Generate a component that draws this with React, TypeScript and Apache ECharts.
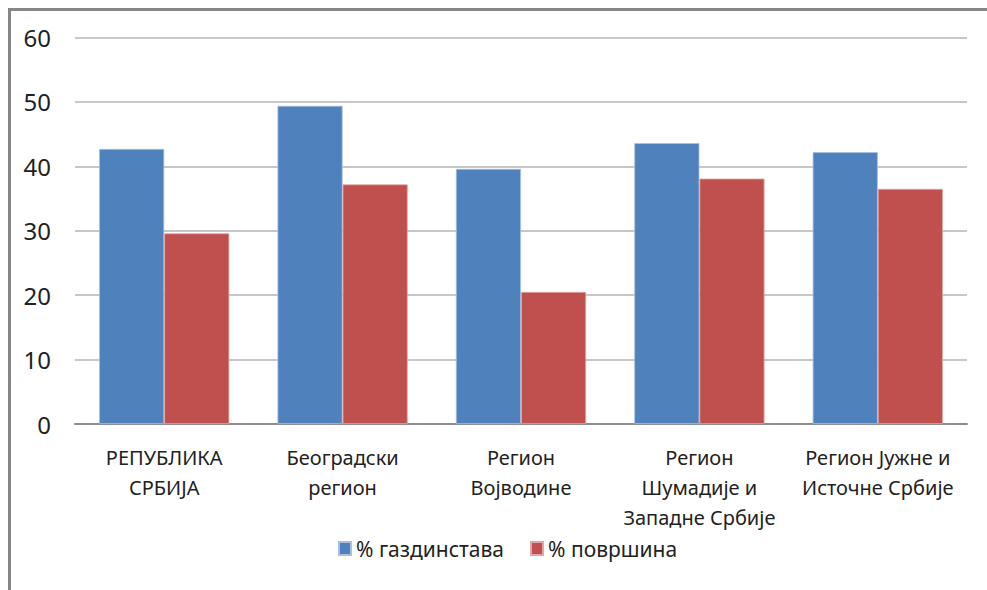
import React, { useEffect, useRef } from "react";
import * as echarts from "echarts";

const categories = [
  "РЕПУБЛИКА\nСРБИЈА",
  "Београдски\nрегион",
  "Регион\nВојводине",
  "Регион\nШумадије и\nЗападне Србије",
  "Регион Јужне и\nИсточне Србије",
];
const households = [42.7, 49.4, 39.6, 43.6, 42.2];
const areas = [29.6, 37.2, 20.5, 38.1, 36.5];
const seriesNames = ["% газдинстава", "% површина"];

const FONT = "'Noto Sans', 'DejaVu Sans', sans-serif";

export default function App() {
  const ref = useRef<HTMLDivElement>(null);
  useEffect(() => {
    if (!ref.current) return;
    const chart = echarts.init(ref.current, undefined, { renderer: "svg" });
    chart.setOption({
      animation: false,
      backgroundColor: "#ffffff",
      textStyle: { fontFamily: FONT },
      graphic: [
        {
          type: "rect",
          shape: { x: 9.5, y: 9.5, width: 1200, height: 800 },
          style: { fill: "none", stroke: "#868686", lineWidth: 3 },
          silent: true,
        },
      ],
      grid: { left: 75, right: 20, top: 37.5, bottom: 166, containLabel: false },
      legend: {
        bottom: 26,
        left: 333,
        itemWidth: 12,
        itemHeight: 13,
        itemGap: 26,
        icon: "rect",
        textStyle: { fontSize: 21, color: "#222", fontFamily: FONT },
        data: seriesNames,
      },
      xAxis: {
        type: "category",
        data: categories,
        axisLine: { lineStyle: { color: "#8c8c8c", width: 2 } },
        axisTick: { show: false },
        axisLabel: {
          fontSize: 20,
          color: "#222",
          lineHeight: 30,
          margin: 18,
          interval: 0,
          fontFamily: FONT,
        },
      },
      yAxis: {
        type: "value",
        min: 0,
        max: 60,
        interval: 10,
        axisLine: { show: false },
        axisTick: { show: false },
        axisLabel: { fontSize: 24, color: "#222", margin: 24, fontFamily: FONT },
        splitLine: { lineStyle: { color: "#b4b4b4", width: 1.5 } },
      },
      series: [
        {
          name: seriesNames[0],
          type: "bar",
          data: households,
          barGap: "0%",
          barCategoryGap: "27%",
          itemStyle: { color: "#4f81bd", borderColor: "#a7c0de", borderWidth: 0.8 },
        },
        {
          name: seriesNames[1],
          type: "bar",
          data: areas,
          itemStyle: { color: "#c0504d", borderColor: "#e0a8a6", borderWidth: 0.8 },
        },
      ],
    });
    return () => chart.dispose();
  }, []);
  return (
    <div
      ref={ref}
      style={{ position: "fixed", left: 0, top: 0, width: 987, height: 590 }}
    />
  );
}
